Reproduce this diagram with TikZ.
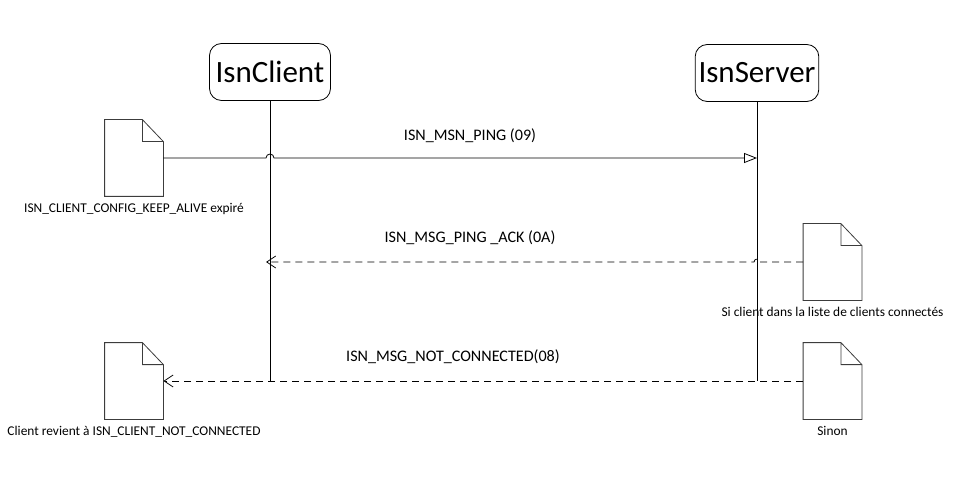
\documentclass[tikz,border=0pt]{standalone}
\usepackage{fontspec}
\setmainfont{Carlito}
\usepackage{tikz}
\usetikzlibrary{arrows.meta,positioning}
\definecolor{doc_grey}{RGB}{60,60,60}

\begin{document}
\begin{tikzpicture}[x=1pt,y=-1pt,line width=0.8pt]
    \tikzstyle{actor}=[draw,rectangle,rounded corners=12pt,minimum width=121pt,minimum height=57pt,font=\fontsize{31}{36}\selectfont]
    \tikzstyle{doc}=[rectangle,minimum width=58pt,minimum height=76pt,inner sep=0pt]
    \tikzstyle{note}=[inner sep=0pt,font=\fontsize{13.4}{16}\selectfont]
    \tikzstyle{msglabel}=[inner sep=0pt,font=\fontsize{16.1}{19}\selectfont]
    \tikzstyle{docline}=[draw=doc_grey,line width=0.8pt]
    \tikzstyle{call}=[-{Triangle[open,length=13pt,width=10pt]}]
    \tikzstyle{reply}=[dashed,dash pattern=on 7pt off 5pt,-{Straight Barb[length=9pt,width=12pt]}]

    \useasboundingbox (0,0) rectangle (963,494);

    % lifelines heads
    \node[actor] (client) at (270,72)  {IsnClient};
    \node[actor] (server) at (757,73)  {IsnServer};

    % notes
    \node[doc] (alive) at (134,158)   {};
    \node[doc] (ack)   at (832.5,262) {};
    \node[doc] (notc)  at (134,381)   {};
    \node[doc] (sinon) at (832.5,381) {};
    \foreach \d in {alive,ack,notc,sinon}
      \draw[docline] (\d.north west) -- ([xshift=-21pt]\d.north east) -- ([yshift=-22pt]\d.north east)
        -- (\d.south east) -- (\d.south west) -- cycle
        ([xshift=-21pt]\d.north east) |- ([yshift=-22pt]\d.north east);

    \node[note,below=6pt of alive] (alivetxt) {ISN\_CLIENT\_CONFIG\_KEEP\_ALIVE expiré};
    \node[note,below=6pt of ack]   (acktxt)   {Si client dans la liste de clients connectés};
    \node[note,below=6pt of notc]  (notctxt)  {Client revient à ISN\_CLIENT\_NOT\_CONNECTED};
    \node[note,below=6pt of sinon] (sinontxt) {Sinon};

    % messages labels
    \node[msglabel] (ping)   at (470,136) {ISN\_MSN\_PING (09)};
    \node[msglabel] (pingack) at (470,238) {ISN\_MSG\_PING \_ACK (0A)};
    \node[msglabel] (notcon) at (453,357) {ISN\_MSG\_NOT\_CONNECTED(08)};

    \coordinate (clientEnd) at (client.south |- notc.east);
    \coordinate (serverEnd) at (server.south |- sinon.west);
    \coordinate (hopA) at (client.south |- alive.east);
    \coordinate (pingEnd) at (server.south |- alive.east);
    \coordinate (hopB) at (server.south |- ack.west);
    \coordinate (ackEnd) at (client.south |- ack.west);

    \draw (client.south) -- (clientEnd);
    \draw (server.south) -- (serverEnd);

    \draw[call] (alive.east) -- ([xshift=-4pt]hopA) arc[start angle=180,end angle=0,radius=4pt] -- (pingEnd);
    \draw[reply] (ack.west) -- ([xshift=3pt]hopB) arc[start angle=0,end angle=180,radius=3pt] -- ([xshift=-4pt]ackEnd);
    \draw[reply] (sinon.west) -- (notc.east);
\end{tikzpicture}
\end{document}
